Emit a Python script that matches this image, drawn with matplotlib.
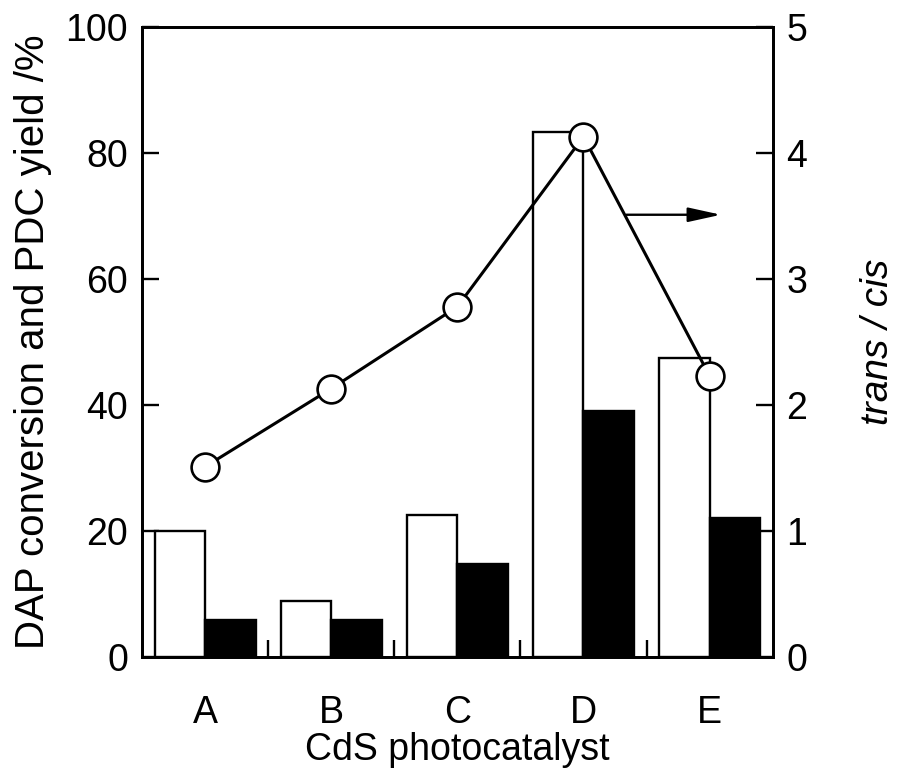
import matplotlib
matplotlib.use('Agg')
import matplotlib.pyplot as plt
import numpy as np

plt.rcParams['font.family'] = ['Liberation Sans', 'DejaVu Sans']

# data
catalysts = ['A', 'B', 'C', 'D', 'E']
dap_conversion = [20.0, 8.9, 22.5, 83.3, 47.5]   # white bars, %
pdc_yield = [5.8, 5.8, 14.8, 39.0, 22.1]         # black bars, %
trans_cis = [1.51, 2.13, 2.78, 4.13, 2.23]       # circles, right axis

x = np.arange(len(catalysts))
w = 0.4

fig = plt.figure(figsize=(9.01, 7.78), dpi=100)
ax = fig.add_axes([0.1576, 0.1555, 0.7, 0.8098])
ax2 = ax.twinx()

ax.bar(x - w / 2, dap_conversion, width=w, facecolor='white', edgecolor='black', linewidth=1.7, zorder=2)
ax.bar(x + w / 2, pdc_yield, width=w, facecolor='black', edgecolor='black', linewidth=1.7, zorder=2)

ax2.plot(x, trans_cis, color='black', lw=2.2, marker='o', markersize=20,
         markerfacecolor='white', markeredgecolor='black', markeredgewidth=1.9, zorder=3)
ax2.annotate('', xy=(4.09, 3.51), xytext=(3.34, 3.51),
             arrowprops=dict(arrowstyle='-|>,head_length=1.0,head_width=0.22',
                             mutation_scale=20, color='black', lw=1.7, shrinkA=0, shrinkB=0))

ax.set_xlim(-0.5, 4.5)
ax.set_ylim(0, 100)
ax2.set_ylim(0, 5)

ax.set_xticks(x)
ax.set_xticklabels(catalysts)
ax.set_xticks(x[:-1] + 0.5, minor=True)
ax.tick_params(axis='x', which='major', length=0, pad=27, labelsize=27)
ax.tick_params(axis='x', which='minor', direction='in', length=12, width=1.7)
ax.set_yticks([0, 20, 40, 60, 80, 100])
ax.tick_params(axis='y', direction='in', length=12, width=1.7, pad=10, labelsize=27)
ax2.set_yticks([0, 1, 2, 3, 4, 5])
ax2.tick_params(axis='y', direction='in', length=12, width=1.7, pad=10, labelsize=27)

for a in (ax, ax2):
    for s in a.spines.values():
        s.set_linewidth(2.0)

ax.set_xlabel('CdS photocatalyst', fontsize=27, labelpad=1)
ax.set_ylabel('DAP conversion and PDC yield /%', fontsize=29, labelpad=10)
ax2.set_ylabel('trans / cis', fontsize=28, style='italic', rotation=90, labelpad=38)

fig.savefig('out.png', dpi=100)
